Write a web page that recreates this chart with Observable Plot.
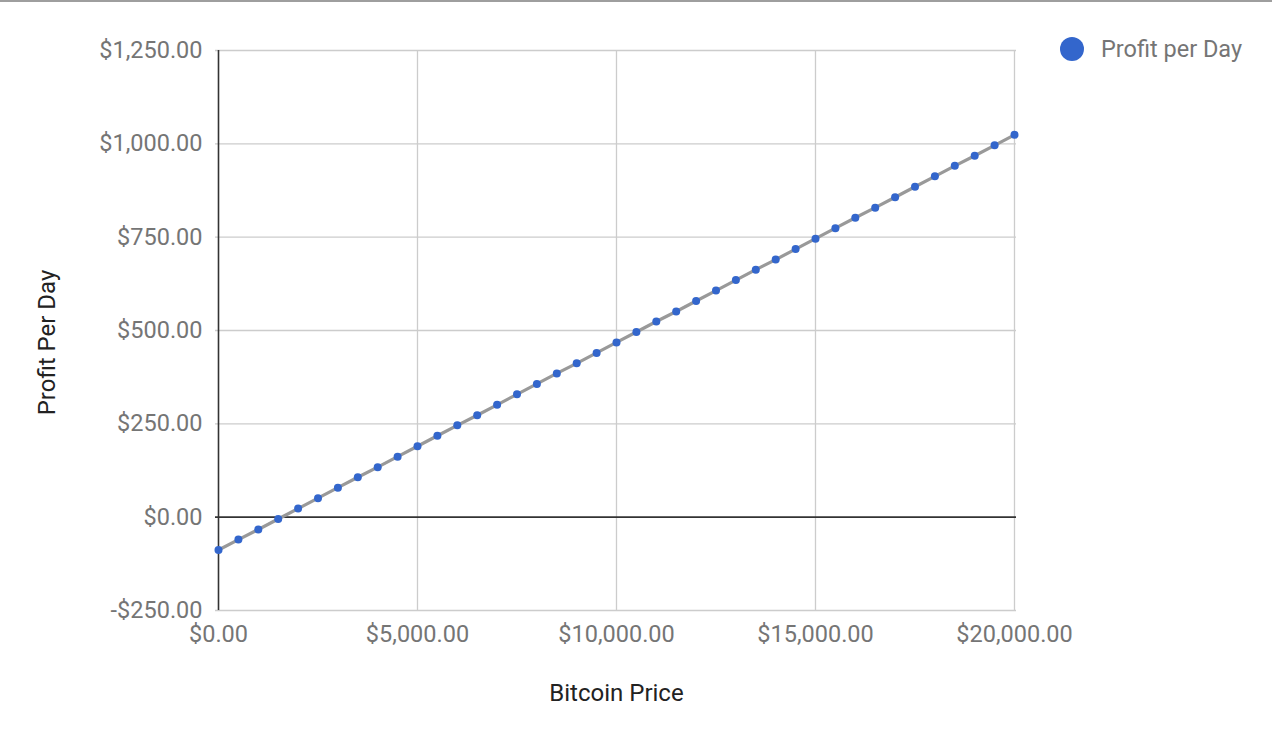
<!DOCTYPE html>
<html>
<head>
<meta charset="utf-8">
<script src="https://cdn.jsdelivr.net/npm/d3@7"></script>
<script src="https://cdn.jsdelivr.net/npm/@observablehq/plot@0.6"></script>
<style>
  html, body { margin: 0; padding: 0; background: #fff; }
  body { width: 1272px; height: 742px; position: relative; overflow: hidden; font-family: Roboto, sans-serif; }
  #topline { position: absolute; left: 0; top: 0; width: 1272px; height: 2px; background: #9e9e9e; }
  #chart { position: absolute; left: 0; top: 0; }
  #legend { position: absolute; left: 1060px; top: 35px; display: flex; align-items: center; font-family: Roboto, sans-serif; font-size: 23.5px; color: #757575; }
  #legend .sw { width: 24px; height: 24px; border-radius: 50%; background: #3366cc; margin-right: 17px; }
</style>
</head>
<body>
<div id="chart"></div>
<div id="topline"></div>
<div id="legend"><div class="sw"></div><span>Profit per Day</span></div>
<script>
const bitcoinPrices = [0,500,1000,1500,2000,2500,3000,3500,4000,4500,5000,5500,6000,6500,7000,7500,8000,8500,9000,9500,10000,10500,11000,11500,12000,12500,13000,13500,14000,14500,15000,15500,16000,16500,17000,17500,18000,18500,19000,19500,20000];
const profitPerDay = [-88,-60,-33,-5,23,51,79,107,134,162,190,218,246,273,301,329,357,385,412,440,468,496,524,551,579,607,635,663,690,718,746,774,802,829,857,885,913,941,968,996,1024];
const xTicks = [0,5000,10000,15000,20000];
const yTicks = [-250,0,250,500,750,1000,1250];
const seriesName = "Profit per Day";
const xTitle = "Bitcoin Price";
const yTitle = "Profit Per Day";

const data = bitcoinPrices.map((p, i) => ({price: p, profit: profitPerDay[i]}));
const fmt = v => (v < 0 ? "-" : "") + d3.format("$,.2f")(Math.abs(v));

const chart = Plot.plot({
  width: 1272,
  height: 742,
  marginLeft: 218,
  marginRight: 258,
  marginTop: 50,
  marginBottom: 132,
  style: {fontFamily: "Roboto, sans-serif", background: "transparent"},
  x: {domain: [0, 20000], ticks: xTicks},
  y: {domain: [-250, 1250], ticks: yTicks},
  marks: [
    Plot.ruleY(yTicks.filter(t => t !== 0), {stroke: "#cccccc", strokeWidth: 1.3, strokeOpacity: 1, insetLeft: -3, insetRight: -2}),
    Plot.ruleX(xTicks.filter(t => t !== 0), {stroke: "#cccccc", strokeWidth: 1.3, strokeOpacity: 1}),
    Plot.ruleY([0], {stroke: "#333333", strokeWidth: 1.6, insetLeft: -3, insetRight: -2}),
    Plot.ruleX([0], {stroke: "#333333", strokeWidth: 1.6}),
    Plot.axisY({ticks: yTicks, tickFormat: fmt, tickSize: 0, tickPadding: 16, fontSize: 23.5, fill: "#757575", label: null}),
    Plot.axisX({ticks: xTicks, tickFormat: fmt, tickSize: 0, tickPadding: 15, fontSize: 23.5, fill: "#757575", label: null}),
    Plot.text([xTitle], {frameAnchor: "bottom", dy: 90, fontSize: 24, fill: "#222222"}),
    Plot.text([yTitle], {frameAnchor: "left", dx: -171, dy: 12, rotate: -90, textAnchor: "middle", fontSize: 24, fill: "#222222"}),
    Plot.line(data, {x: "price", y: "profit", stroke: "#999999", strokeWidth: 3.2}),
    Plot.dot(data, {x: "price", y: "profit", r: 4, fill: "#3366cc", stroke: "none"})
  ]
});
document.getElementById("chart").appendChild(chart);
</script>
</body>
</html>
